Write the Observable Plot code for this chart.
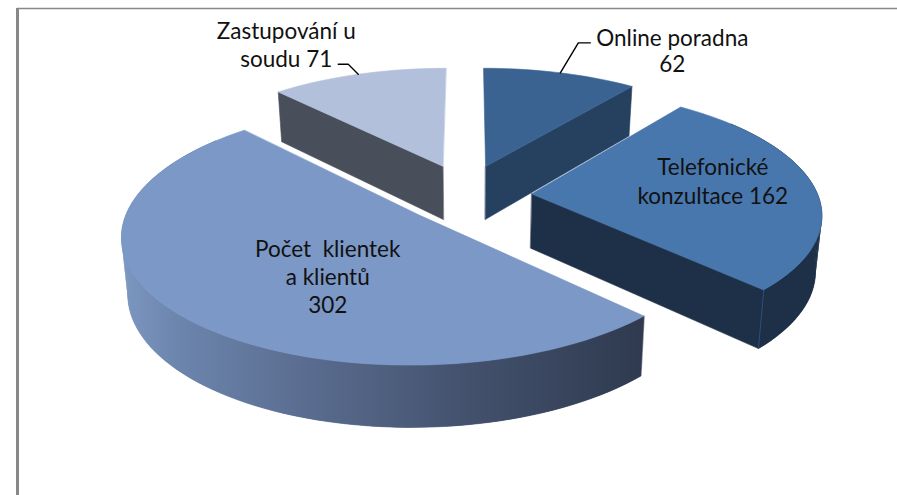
<!DOCTYPE html>
<html><head><meta charset="utf-8">
<style>html,body{margin:0;padding:0;background:#fff}svg{display:block}</style>
<script src="https://cdn.jsdelivr.net/npm/d3@7"></script>
<script src="https://cdn.jsdelivr.net/npm/@observablehq/plot@0.6"></script>
</head><body>
<div id="chart"></div>
<script>
// Data, clockwise from 12 o'clock
const names = ["Online poradna", "Telefonické konzultace", "Počet klientek a klientů", "Zastupování u soudu"];
const values = [62, 162, 302, 71];
const labelLines = [["Online poradna", "62"], ["Telefonické", "konzultace 162"], ["Počet  klientek", "a klientů", "302"], ["Zastupování u", "soudu 71"]];
const topColors = ["#3a6392", "#4877ae", "#7b98c6", "#b2c0dc"];
const wallColors = ["#26415f", "#1e3048", "url(#wallShade)", "#484f5b"];
const shadeStops = [[0, "#7c97c2"], [0.1, "#6d86ae"], [0.35, "#5a6d90"], [0.65, "#44526e"], [1, "#2f3a4f"]];

// Layout of the tilted, exploded pie
const W = 897, H = 495;
const view = {cx: 468, cy: 195, A: 295, B: 126, p: 0.15};
const slices3d = [
  {ou: 0.06, ov: 0.24, r: 0.95, cut: "end"},
  {ou: 0.215, ov: 0.014, r: 0.97, cut: "end"},
  {ou: -0.165, ov: -0.15, r: 0.97, cut: "none"},
  {ou: -0.09, ov: 0.24, r: 0.95, cut: "start"}
];
const labelLayout = [
  {from: "rim", dx: 112, dy: -22, lh: 26},
  {from: "apex", dx: 181, dy: -14, lh: 29},
  {from: "apex", dx: -91, dy: 61, lh: 28},
  {from: "rim", dx: -72, dy: -30, lh: 28}
];
const labelSize = 22.5;
const leaderLayout = [[[0, 0], [18, -30], [30, -30]], null, null, [[0, 0], [-10, -10], [-20, -10]]];
const frontFrom = 50 * Math.PI / 180, frontTo = 310 * Math.PI / 180;

const project = (u, v) => {
  const s = 1 / (1 + view.p * v);
  return [view.cx + view.A * u * s, view.cy - view.B * v * s, s];
};
// verticals converge slightly towards the bottom
const drop = (p) => [p[0] - 0.018 * (p[0] - view.cx), p[1] + 16 + 38.5 * p[2]];

const arcs = d3.pie().sort(null)(values);
const walls = [], tops = [], labels = [], leaders = [], seams = [];
let shadeRange = [0, W];
const STEP = Math.PI / 90;
arcs.forEach((arc, i) => {
  const g = slices3d[i];
  const a0 = arc.startAngle, a1 = arc.endAngle;
  const n = Math.max(2, Math.ceil((a1 - a0) / STEP));
  const ts = d3.range(n + 1).map((k) => a0 + (a1 - a0) * k / n);
  const pt = (t) => project(g.ou + g.r * Math.sin(t), g.ov + g.r * Math.cos(t));
  const rim = ts.map(pt);
  const apex = project(g.ou, g.ov);
  const pushPoly = (id, pts) => pts.forEach((p) => walls.push({id, x: p[0], y: p[1], order: i}));
  // outer wall: only the part that faces the viewer.
  // A whole band underneath hides the seams; the quads give the side tangents.
  const front = ts.filter((t) => t >= frontFrom && t <= frontTo).map(pt);
  if (front.length > 1) pushPoly(`band${i}`, [...front, ...front.map(drop).reverse()]);
  front.slice(1).forEach((p, k) => pushPoly(`r${i}-${k}`, [front[k], p, drop(p), drop(front[k])]));
  if (i === 2) shadeRange = d3.extent(front, (p) => p[0]);
  // cut faces that look towards the viewer
  if (g.cut !== "none") {
    const p = g.cut === "end" ? rim[n] : rim[0];
    pushPoly(`c${i}`, [apex, p, drop(p), drop(apex)]);
    if (i === 1) [p, drop(p)].forEach((q) => seams.push({x: q[0], y: q[1]}));
  }
  [apex, ...rim].forEach((p) => tops.push({id: names[i], x: p[0], y: p[1], order: i}));
  // text and leader
  const rp = pt((a0 + a1) / 2);
  const L = labelLayout[i];
  const base = L.from === "rim" ? rp : apex;
  labels.push({text: labelLines[i].join("\n"), x: base[0] + L.dx, y: base[1] + L.dy, lh: L.lh});
  if (leaderLayout[i]) leaderLayout[i].forEach((o) => leaders.push({id: names[i], x: rp[0] + o[0], y: rp[1] + o[1]}));
});

const gradientDefs = () => {
  const defs = d3.create("svg:defs");
  const grad = defs.append("linearGradient").attr("id", "wallShade").attr("gradientUnits", "userSpaceOnUse")
    .attr("x1", shadeRange[0]).attr("x2", shadeRange[1]).attr("y1", 0).attr("y2", 0);
  shadeStops.forEach(([o, c]) => grad.append("stop").attr("offset", o).attr("stop-color", c));
  return defs.node();
};

const paint = [0, 3, 1, 2]; // back slices first
const sliceMarks = paint.flatMap((i) => {
  const mine = walls.filter((d) => d.order === i);
  return [
    Plot.line(mine.filter((d) => d.id.startsWith("r")), {x: "x", y: "y", z: "id", fill: wallColors[i], curve: "linear-closed"}),
    Plot.line(mine.filter((d) => !d.id.startsWith("r")), {x: "x", y: "y", z: "id", fill: wallColors[i], stroke: wallColors[i], strokeWidth: 0.6, curve: "linear-closed"}),
    ...(i === 1 ? [Plot.line(seams, {x: "x", y: "y", stroke: "#2c4f7c", strokeWidth: 1})] : []),
    Plot.line(tops.filter((d) => d.order === i), {x: "x", y: "y", z: "id", fill: topColors[i], stroke: topColors[i], strokeWidth: 0.6, curve: "linear-closed"})
  ];
});

const chart = Plot.plot({
  width: W, height: H, margin: 0,
  style: {background: "#fff"},
  x: {domain: [0, W], range: [0, W], axis: null},
  y: {domain: [0, H], range: [0, H], axis: null},
  marks: [
    gradientDefs,
    Plot.ruleX([17], {y1: 8, y2: H, stroke: "#888", strokeWidth: 3}),
    Plot.ruleY([8], {x1: 17, x2: W, stroke: "#888", strokeWidth: 1.5}),
    ...sliceMarks,
    Plot.line(leaders, {x: "x", y: "y", z: "id", stroke: "#000", strokeWidth: 1.4}),
    ...labels.map((l) => Plot.text([l], {x: "x", y: "y", text: "text", fontSize: labelSize, lineHeight: l.lh / labelSize, fontFamily: "Lato", fill: "#111", textAnchor: "middle"}))
  ]
});
document.getElementById("chart").append(chart);
</script>
</body></html>
